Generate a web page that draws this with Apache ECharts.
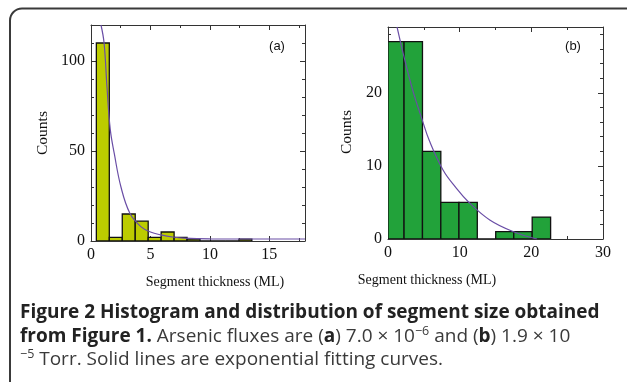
<!DOCTYPE html>
<html><head><meta charset="utf-8">
<script src="https://cdn.jsdelivr.net/npm/echarts@6/dist/echarts.min.js"></script>
<style>html,body{margin:0;padding:0;background:#fff}#c{width:627px;height:382px}</style>
</head><body><div id="c"></div>
<script>
// Panel (a) histogram
const binEdgesA = [0.45, 1.54, 2.63, 3.72, 4.81, 5.9, 6.99, 8.08, 9.17, 10.26, 11.35, 12.44, 13.53];
const countsA   = [110, 2, 15, 11, 2, 5, 2, 1, 0, 0, 0, 1];
// Panel (a) fitted curve
const curveA = [[0.84,120],[1.1,110],[1.35,85],[1.62,62],[1.96,48.5],[2.52,30],[3.27,15.4],[4.19,8],[5.0,5],[5.87,3.4],[7.0,2.1],[7.8,1.6],[10,1.2],[14,1.1],[18,1.1]];
// Panel (b) histogram
const binEdgesB = [0, 2.24, 4.81, 7.37, 9.9, 12.46, 15.03, 17.55, 20.12, 22.69];
const countsB   = [27, 27, 12, 5, 5, 0, 1, 1, 3];
// Panel (b) fitted curve
const curveB = [[1.26,29],[1.73,27],[2.34,24.5],[3.5,20.2],[4.77,16.3],[5.75,13.5],[7.7,9.4],[9.5,7],[11.2,5.1],[14.2,2.6],[17.5,1.0],[20.8,0]];
// Tick settings
const xTicksA = {min:0, max:18, interval:5};
const yTicksA = {min:0, max:120, interval:50};
const xTicksB = {min:0, max:30, interval:10};
const yTicksB = {min:0, max:29, interval:10};

const xName = 'Segment thickness (ML)';
const yName = 'Counts';
const captionLine1 = 'Figure 2 Histogram and distribution of segment size obtained';

const serif = '"Liberation Serif","DejaVu Serif",serif';
const sans = '"Open Sans","Noto Sans",sans-serif';
const frameColor = '#333';

function makeAxis(kind, t, gridIndex, pos, showLabels, minorSplit) {
  return {
    type:'value', gridIndex, position:pos, min:t.min, max:t.max, interval:t.interval,
    axisLine:{show:true, onZero:false, lineStyle:{color:frameColor, width:1}},
    axisTick:{show:true, inside:true, length:5, lineStyle:{color:frameColor, width:1}},
    minorTick:{show:true, splitNumber:minorSplit, length:3, lineStyle:{color:frameColor, width:1}},
    splitLine:{show:false},
    axisLabel:{show:showLabels, showMaxLabel: kind==='xb', margin:6, color:'#111', fontFamily:serif, fontSize:16}
  };
}

function hist(edges, counts, color, xi, yi) {
  const data = counts.map((c,i)=>[edges[i], edges[i+1], c]);
  return {
    type:'custom', xAxisIndex:xi, yAxisIndex:yi, data, clip:true, z:2,
    encode:{x:[0,1], y:2},
    renderItem(params, api){
      const p0 = api.coord([api.value(0), api.value(2)]);
      const p1 = api.coord([api.value(1), 0]);
      return {type:'rect', shape:{x:p0[0], y:p0[1], width:p1[0]-p0[0], height:p1[1]-p0[1]},
        style:{fill:color, stroke:'#111', lineWidth:1.3}};
    }
  };
}

function curve(pts, xi, yi) {
  return {type:'line', xAxisIndex:xi, yAxisIndex:yi, data:pts, smooth:0.4, showSymbol:false, clip:true, z:3,
    lineStyle:{color:'#6a4ea6', width:1.2}};
}

const chart = echarts.init(document.getElementById('c'), null, {renderer:'canvas'});
chart.setOption({
  animation:false,
  grid:[
    {left:91, top:25, width:214, height:216},
    {left:388, top:27, width:215, height:212}
  ],
  xAxis:[
    makeAxis('xa', xTicksA, 0, 'bottom', true, 2),
    makeAxis('xa', xTicksA, 0, 'top', false, 2),
    makeAxis('xb', xTicksB, 1, 'bottom', true, 2),
    makeAxis('xb', xTicksB, 1, 'top', false, 2)
  ],
  yAxis:[
    makeAxis('ya', yTicksA, 0, 'left', true, 5),
    makeAxis('ya', yTicksA, 0, 'right', false, 5),
    makeAxis('yb', yTicksB, 1, 'left', true, 5),
    makeAxis('yb', yTicksB, 1, 'right', false, 5)
  ],
  series:[
    hist(binEdgesA, countsA, '#bccc00', 0, 0),
    curve(curveA, 0, 0),
    hist(binEdgesB, countsB, '#22a23a', 2, 2),
    curve(curveB, 2, 2)
  ],
  graphic:[
    {type:'rect', shape:{x:10, y:8.5, width:700, height:420, r:12}, style:{fill:'none', stroke:'#3a3a3a', lineWidth:2}, z:-1},
    {type:'text', x:215, y:282, style:{text:xName, font:'14px '+serif, fill:'#111', textAlign:'center', textVerticalAlign:'middle'}},
    {type:'text', x:427, y:280, style:{text:xName, font:'14px '+serif, fill:'#111', textAlign:'center', textVerticalAlign:'middle'}},
    {type:'text', x:43, y:133, rotation:Math.PI/2, style:{text:yName, font:'15.5px '+serif, fill:'#111', textAlign:'center', textVerticalAlign:'middle'}},
    {type:'text', x:347, y:132, rotation:Math.PI/2, style:{text:yName, font:'15.5px '+serif, fill:'#111', textAlign:'center', textVerticalAlign:'middle'}},
    {type:'text', x:277, y:46, style:{text:'(a)', font:'13px "Liberation Sans",Arial,sans-serif', fill:'#111', textAlign:'center', textVerticalAlign:'middle'}},
    {type:'text', x:573, y:46.5, style:{text:'(b)', font:'13px "Liberation Sans",Arial,sans-serif', fill:'#111', textAlign:'center', textVerticalAlign:'middle'}},
    {type:'text', x:20, y:313, style:{text:captionLine1, font:'bold 19px '+sans, fill:'#222', textVerticalAlign:'middle'}},
    {type:'text', x:20, y:337, style:{
      text:'{b|from Figure 1.}{n| Arsenic fluxes are (}{b|a}{n|) 7.0 × 10}{s|−6}{n| and (}{b|b}{n|) 1.9 × 10}',
      textVerticalAlign:'middle',
      rich:{
        b:{fontFamily:sans, fontWeight:'bold', fontSize:19, fill:'#222', lineHeight:24},
        n:{fontFamily:sans, fontSize:19, fill:'#3a3a3a', lineHeight:24},
        s:{fontFamily:sans, fontSize:12.5, fill:'#3a3a3a', verticalAlign:'top', lineHeight:24}
      }}},
    {type:'text', x:20, y:360, style:{
      text:'{s|−5}{n| Torr. Solid lines are exponential fitting curves.}',
      textVerticalAlign:'middle',
      rich:{
        n:{fontFamily:sans, fontSize:19, fill:'#3a3a3a', lineHeight:24},
        s:{fontFamily:sans, fontSize:12.5, fill:'#3a3a3a', verticalAlign:'top', lineHeight:24}
      }}}
  ]
});
</script></body></html>
